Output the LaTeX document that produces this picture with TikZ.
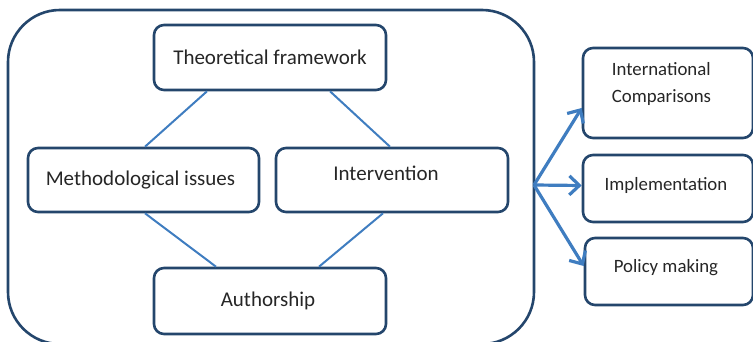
\documentclass[tikz,border=0pt]{standalone}
\usepackage{fontspec}
\setmainfont{Carlito}
\usetikzlibrary{arrows.meta}
\definecolor{frameblue}{HTML}{24466C}
\definecolor{linkblue}{HTML}{3F7DC0}
\definecolor{inkgray}{HTML}{262626}
\begin{document}
\begin{tikzpicture}[x=1pt,y=-1pt,
  box/.style={draw=frameblue, line width=2.6pt, rounded corners=10pt, fill=white, inner sep=0pt},
  txt/.style={text=inkgray, inner sep=0pt, font=\fontsize{21}{25}\selectfont},
  smalltxt/.style={text=inkgray, inner sep=0pt, font=\fontsize{18.8}{27}\selectfont},
  link/.style={draw=linkblue, line width=2pt},
  flow/.style={draw=linkblue, line width=3.2pt, -{Straight Barb[length=10pt,width=19pt,line width=3.2pt]}}]
\useasboundingbox (0,0) rectangle (753,342);
\clip (0,0) rectangle (753,342);

% outer frame, its lower edge at the foot of the page
\node (frame) [draw=frameblue, line width=2.6pt, rounded corners=52pt, minimum width=526pt, minimum height=334pt, inner sep=0pt] at (271,177) {};

% inner boxes
\node (tf)  [box, minimum width=232pt, minimum height=65pt] at (270,57.5) {};
\node (mi)  [box, minimum width=231pt, minimum height=64pt] at (143.5,180) {};
\node (int) [box, minimum width=232pt, minimum height=64pt] at (392,180) {};
\node (au)  [box, minimum width=232pt, minimum height=66pt] at (270,301) {};

\node (tf-t)  [txt] at (tf.center) {Theoretical framework};
\node (mi-t)  [txt] at ([xshift=-3pt]mi.center) {Methodological issues};
\node (int-t) [txt] at ([xshift=-6pt,yshift=7pt]int.center) {Intervention};
\node (au-t)  [txt] at ([xshift=-2pt]au.center) {Authorship};

% links between the inner boxes
\draw[link] ([xshift=-63pt]tf.south) -- ([xshift=1.5pt]mi.north);
\draw[link] ([xshift=60pt]tf.south) -- ([xshift=-2pt]int.north);
\draw[link] ([xshift=1.5pt]mi.south) -- ([xshift=-54pt]au.south |- au.north);
\draw[link] ([xshift=-9pt]int.south) -- ([xshift=49pt]au.south |- au.north);

% outcome boxes on the right
\node (ic)  [box, minimum width=170pt, minimum height=90pt] at (668,93) {};
\node (imp) [box, minimum width=170pt, minimum height=67pt] at (668,188.5) {};
\node (pm)  [box, minimum width=168pt, minimum height=67pt] at (669,271.5) {};

\node (ic-t)  [smalltxt, align=left, anchor=west] at ([xshift=30pt,yshift=9pt]ic.west) {International\\Comparisons};
\node (imp-t) [smalltxt] at ([xshift=-2pt,yshift=3pt]imp.center) {Implementation};
\node (pm-t)  [smalltxt] at ([xshift=-3pt,yshift=3.5pt]pm.center) {Policy making};

% arrows fanning out from the frame
\coordinate (hub) at (534,185);
\draw[flow] (hub) -- ([yshift=-15pt]ic.west);
\draw[flow] (hub) -- ([yshift=3pt]imp.west);
\draw[flow] (hub) -- ([yshift=5.5pt]pm.west);
\end{tikzpicture}
\end{document}
